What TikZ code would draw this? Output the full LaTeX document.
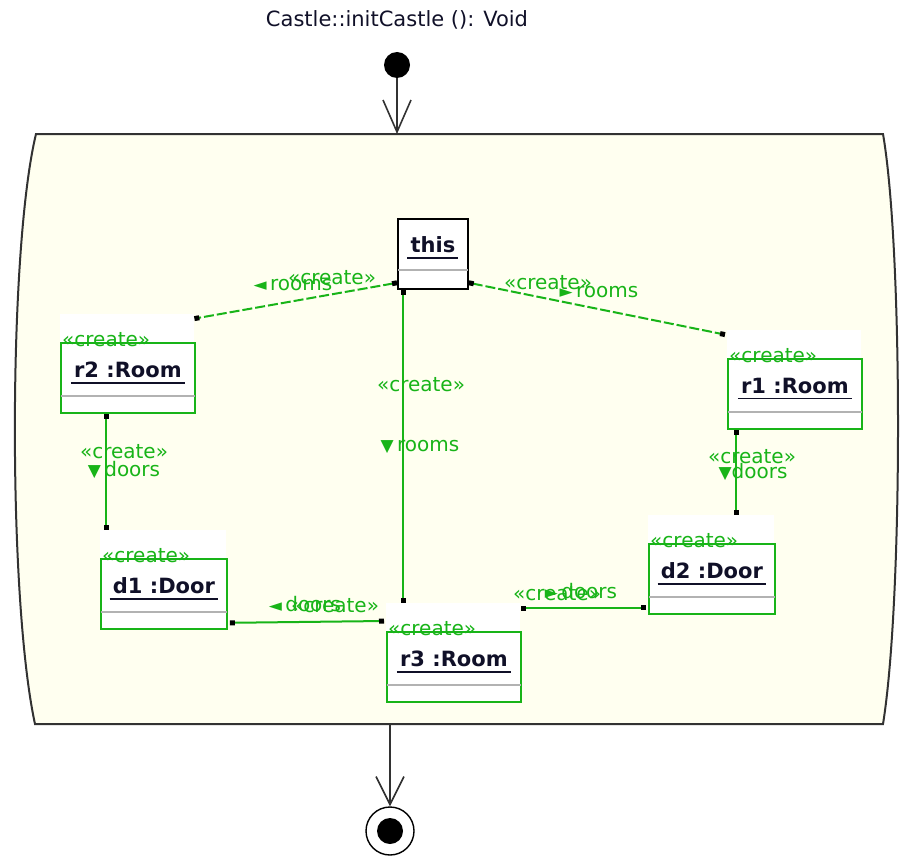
\documentclass[tikz,border=0pt]{standalone}
\usepackage{fontspec}
\setmainfont{DejaVu Sans}
\usetikzlibrary{arrows.meta,calc}
\definecolor{umlgreen}{RGB}{24,180,24}
\definecolor{actfill}{RGB}{255,255,240}
\definecolor{actline}{RGB}{50,50,50}
\definecolor{objtext}{RGB}{16,16,40}
\newcommand{\tri}[1]{{\fontsize{17}{17}\selectfont#1}}
\begin{document}
\begin{tikzpicture}[x=1pt, y=-1pt,
    lbl/.style={text=umlgreen, font=\fontsize{20}{20}\selectfont, inner sep=0pt},
    objname/.style={text=objtext, font=\fontsize{21}{21}\selectfont\bfseries, inner sep=0pt},
    objbox/.style={draw=umlgreen, line width=1.8pt, fill=white, anchor=north west, minimum height=70, inner sep=0pt},
    lblarea/.style={fill=white, anchor=south west, minimum height=28, inner sep=0pt},
    uline/.style={draw=objtext, line width=1.8pt},
    divider/.style={draw=black!30, line width=2pt},
    link/.style={umlgreen, line width=2pt, {Square[length=5pt,width=5pt,color=black]}-{Square[length=5pt,width=5pt,color=black]}},
    flow/.style={actline, line width=1.6pt, -{Straight Barb[length=32pt,width=28pt]}}]
  \useasboundingbox (0,0) rectangle (901,856);
  \draw[actline, fill=actfill, line width=2pt] (36,134) -- (883,134) .. controls (903,250) and (903,600) .. (883,724) -- (35,724) .. controls (8,600) and (8,250) .. (36,134) -- cycle;
  \node[text=objtext, font=\fontsize{21}{21}\selectfont, inner sep=0pt] (title) at (397,20) {Castle::initCastle (): Void};
  \node[circle, fill=black, minimum size=26, inner sep=0pt] (init) at (397,65) {};
  \coordinate (frame-top) at (397,134);
  \coordinate (frame-bot) at (390,724);
  \node[circle, draw=black, line width=1.4pt, fill=white, minimum size=48, inner sep=0pt] (final) at (390,831) {};
  \node[circle, fill=black, minimum size=26, inner sep=0pt] (final-dot) at (final) {};
  \draw[flow] (init) -- (frame-top);
  \draw[flow, -{Straight Barb[length=28pt,width=28pt]}] (frame-bot) -- (final);

  \node[objbox, draw=black, minimum width=70] (this) at (397,218) {};
  \node[objname] (this-name) at ($(this.north)+(0,27)$) {this};
  \draw[uline] ($(this-name.base west)+(-3,5)$) -- ($(this-name.base east)+(3,5)$);
  \draw[divider] ($(this.north west)+(1,52)$) -- ($(this.north east)+(-1,52)$);
  \foreach \n/\l/\t/\w/\txt in {r2/60/342/134/r2 :Room, r1/727/358/134/r1 :Room, d1/100/558/126/d1 :Door, d2/648/543/126/d2 :Door, r3/386/631/134/r3 :Room} {
    \node[lblarea, minimum width=\w] (\n-area) at (\l,\t) {};
    \node[objbox, minimum width=\w] (\n) at (\l,\t) {};
    \node[lbl, anchor=west] (\n-st) at ($(\n.north west)+(2,-2)$) {«create»};
    \node[objname] (\n-name) at ($(\n.north)+(0,28)$) {\txt};
    \draw[uline] ($(\n-name.base west)+(-3,5)$) -- ($(\n-name.base east)+(3,5)$);
    \draw[divider] ($(\n.north west)+(1,54)$) -- ($(\n.north east)+(-1,54)$);
  }

  \draw[link, dash pattern=on 10pt off 3pt] ($(this.south west)+(0,-7)$) -- ($(r2-area.north east)+(0,5)$);
  \draw[link, dash pattern=on 10pt off 3pt] ($(this.south east)+(0,-7)$) -- ($(r1-area.north west)+(-2,5)$);
  \draw[link] ($(this.south west)+(6,0)$) -- ($(r3-area.north west)+(17,0)$);
  \draw[link] ($(r2.south west)+(46,0)$) -- ($(d1-area.north west)+(6,0)$);
  \draw[link] ($(r1.south west)+(9,0)$) -- ($(d2-area.north west)+(88,0)$);
  \draw[link] ($(r3-area.south west)+(-2,-10)$) -- ($(d1.south east)+(2,-7)$);
  \draw[link] ($(r3-area.south east)+(1,-23)$) -- ++(61,0) |- ($(d2.south west)+(-2,-7)$);

  \node[lbl] (cr-this-r2) at (332,278) {«create»};
  \node[lbl] (rl-this-r2) at (293,285) {\tri{◄}\,rooms};
  \node[lbl] (cr-this-r1) at (548,283) {«create»};
  \node[lbl] (rl-this-r1) at (599,292) {\tri{►}\,rooms};
  \node[lbl] (cr-this-r3) at (421,385) {«create»};
  \node[lbl] (rl-this-r3) at (420,447) {\tri{▼}\,rooms};
  \node[lbl] (cr-r2-d1) at (124,452) {«create»};
  \node[lbl] (rl-r2-d1) at (124,470) {\tri{▼}\,doors};
  \node[lbl] (cr-r1-d2) at (752,457) {«create»};
  \node[lbl] (rl-r1-d2) at (753,472) {\tri{▼}doors};
  \node[lbl] (rl-r3-d1) at (305,604) {\tri{◄}\,doors};
  \node[lbl] (cr-r3-d1) at (335,606) {«create»};
  \node[lbl] (cr-r3-d2) at (557,594) {«create»};
  \node[lbl] (rl-r3-d2) at (581,591) {\tri{►}\,doors};
\end{tikzpicture}
\end{document}
